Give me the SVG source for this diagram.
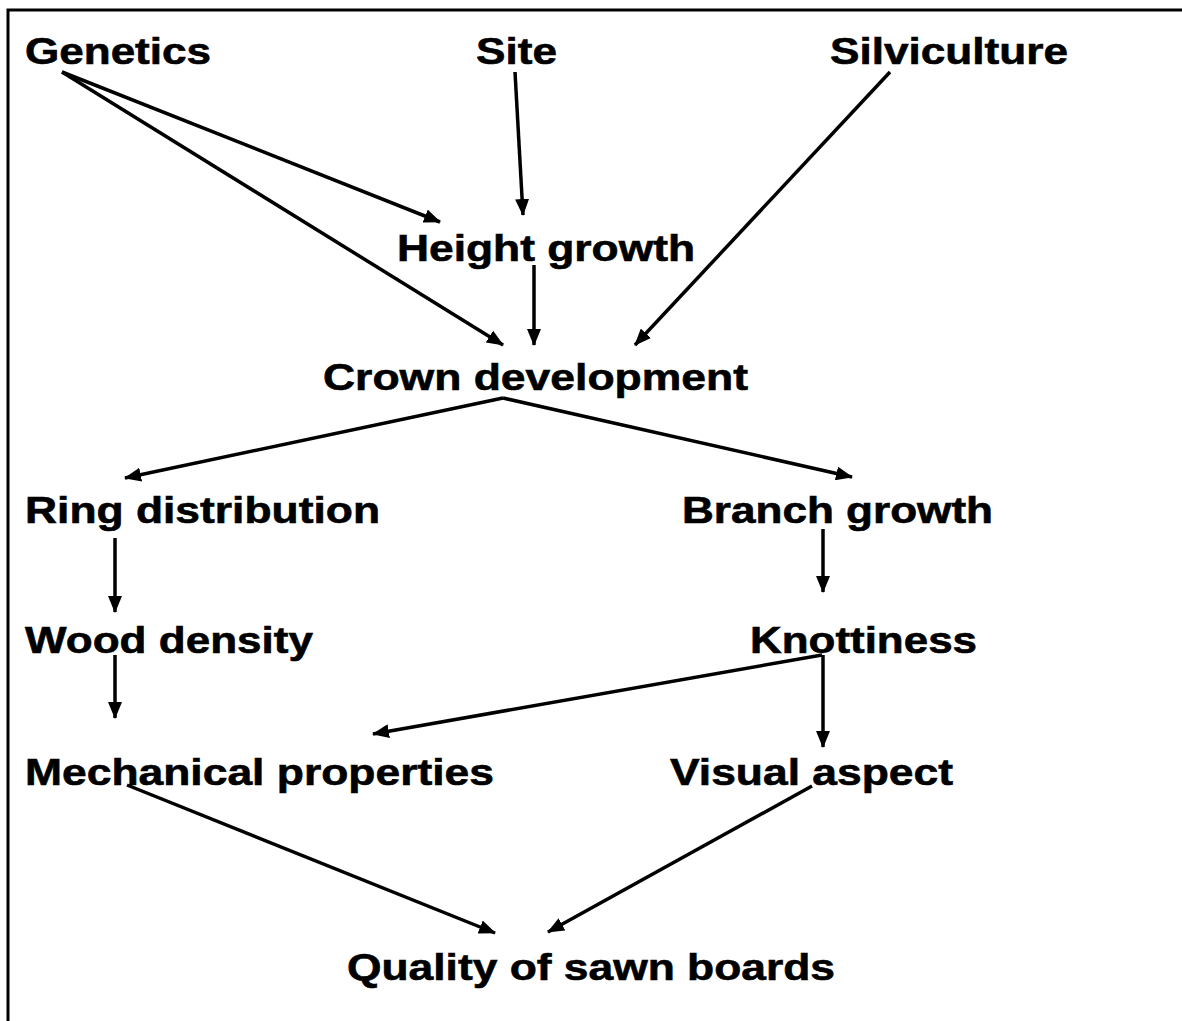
<svg xmlns="http://www.w3.org/2000/svg" width="1182" height="1021" viewBox="0 0 1182 1021">
<style>
text{font-family:"Liberation Sans",Arial,sans-serif;font-weight:bold;font-size:37px;fill:#000;stroke:#000;stroke-width:0.6}
.c line{stroke:#000;stroke-width:3.5;marker-end:url(#ah)}
</style>
<defs>
<marker id="ah" markerUnits="userSpaceOnUse" markerWidth="18" markerHeight="14" refX="16" refY="7" orient="auto" viewBox="0 0 18 14">
<path d="M0,0 L17,7 L0,14 Z" fill="#000"/>
</marker>
</defs>
<rect width="1182" height="1021" fill="#fff"/>
<path d="M8,1021 V10 H1182" fill="none" stroke="#000" stroke-width="3"/>
<g id="genetics"><text x="25" y="64" textLength="186" lengthAdjust="spacingAndGlyphs">Genetics</text></g>
<g id="site"><text x="476" y="64" textLength="81" lengthAdjust="spacingAndGlyphs">Site</text></g>
<g id="silviculture"><text x="830" y="64" textLength="238" lengthAdjust="spacingAndGlyphs">Silviculture</text></g>
<g id="height"><text x="397" y="261" textLength="298" lengthAdjust="spacingAndGlyphs">Height growth</text></g>
<g id="crown"><text x="323" y="390" textLength="425" lengthAdjust="spacingAndGlyphs">Crown development</text></g>
<g id="ring"><text x="25" y="523" textLength="355" lengthAdjust="spacingAndGlyphs">Ring distribution</text></g>
<g id="branch"><text x="682" y="523" textLength="311" lengthAdjust="spacingAndGlyphs">Branch growth</text></g>
<g id="wood"><text x="25" y="653" textLength="288" lengthAdjust="spacingAndGlyphs">Wood density</text></g>
<g id="knot"><text x="750" y="653" textLength="227" lengthAdjust="spacingAndGlyphs">Knottiness</text></g>
<g id="mech"><text x="25" y="785" textLength="469" lengthAdjust="spacingAndGlyphs">Mechanical properties</text></g>
<g id="visual"><text x="670" y="785" textLength="283" lengthAdjust="spacingAndGlyphs">Visual aspect</text></g>
<g id="quality"><text x="347" y="980" textLength="488" lengthAdjust="spacingAndGlyphs">Quality of sawn boards</text></g>
<g class="c" id="connectors">
<line x1="62" y1="72" x2="440" y2="222"/>
<line x1="62" y1="72" x2="503" y2="345"/>
<line x1="515" y1="72" x2="523" y2="215"/>
<line x1="534" y1="265" x2="534" y2="345"/>
<line x1="890" y1="72" x2="635" y2="345"/>
<line x1="503" y1="398" x2="125" y2="478"/>
<line x1="503" y1="398" x2="852" y2="477"/>
<line x1="115" y1="538" x2="115" y2="612"/>
<line x1="115" y1="655" x2="115" y2="718"/>
<line x1="823" y1="529" x2="823" y2="592"/>
<line x1="823" y1="655" x2="823" y2="747"/>
<line x1="822" y1="655" x2="373" y2="734"/>
<line x1="127" y1="785" x2="495" y2="933"/>
<line x1="812" y1="786" x2="548" y2="932"/>
</g>
</svg>
